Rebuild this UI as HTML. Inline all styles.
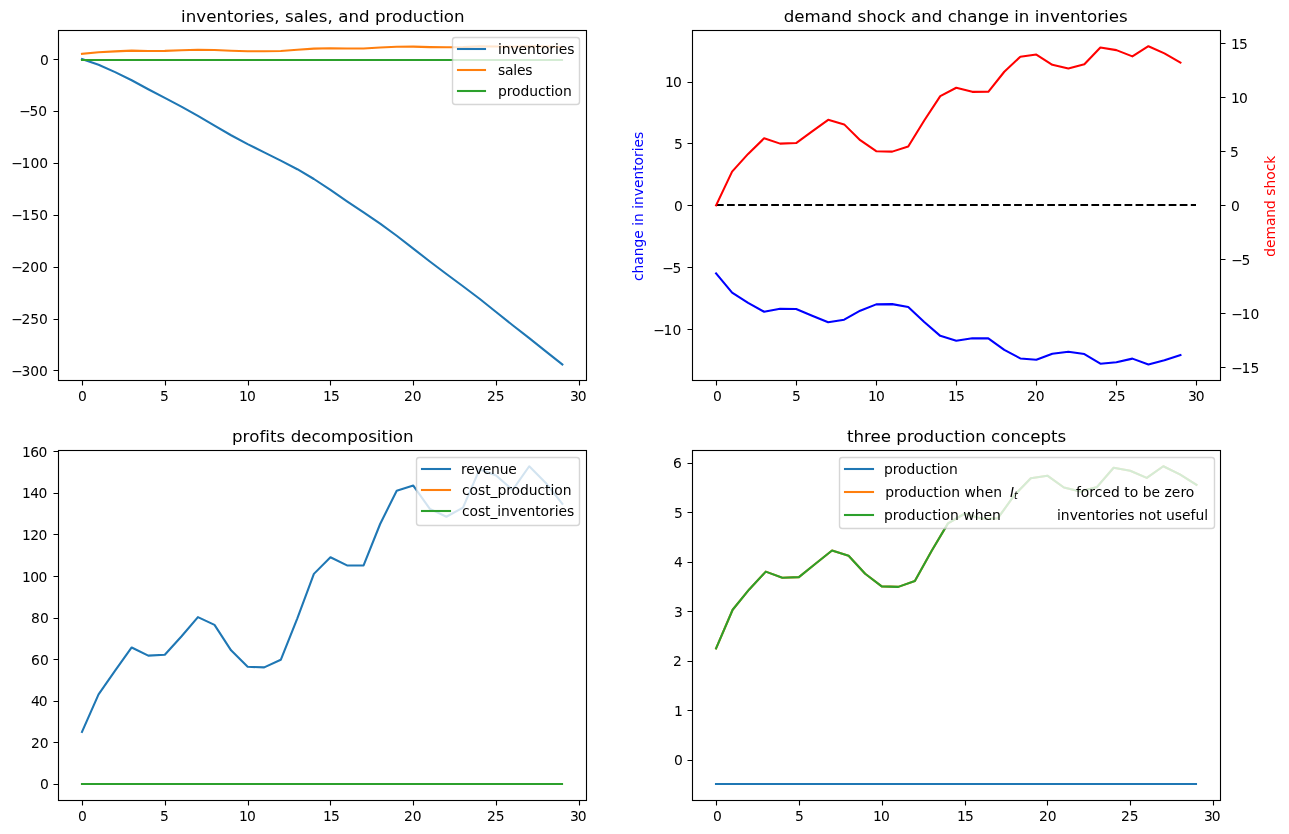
<!DOCTYPE html>
<html><head><meta charset="utf-8"><title>figure</title>
<style>html,body{margin:0;padding:0;background:#fff;overflow:hidden}svg{display:block}text{font-family:"DejaVu Sans","Liberation Sans",sans-serif;white-space:pre;font-variant-ligatures:none;font-feature-settings:"liga" 0,"clig" 0,"dlig" 0;font-kerning:normal}</style>
</head><body>
<svg width="1289" height="834" viewBox="0 0 1289 834">
<defs><clipPath id="ca"><rect x="57.97" y="30.33" width="528.41" height="350"/></clipPath><clipPath id="cb"><rect x="692.06" y="30.33" width="528.41" height="350"/></clipPath><clipPath id="cc"><rect x="57.97" y="450.33" width="528.41" height="350"/></clipPath><clipPath id="cd"><rect x="692.06" y="450.33" width="528.41" height="350"/></clipPath></defs>
<rect width="1289" height="834" fill="#fff"/>
<g clip-path="url(#ca)">
<polyline points="81.99,59.07 98.56,64.78 115.12,72.11 131.68,80.29 148.25,89.21 164.81,97.88 181.38,106.58 197.94,115.84 214.51,125.65 231.07,135.25 247.64,144.09 264.2,152.4 280.77,160.68 297.33,169.22 313.89,179 330.46,189.95 347.02,201.31 363.59,212.47 380.15,223.63 396.72,235.75 413.28,248.59 429.85,261.54 446.41,274 462.98,286.28 479.54,298.76 496.1,312.05 512.67,325.21 529.23,338.07 545.8,351.42 562.36,364.42" stroke="#1f77b4" stroke-width="2.0833" stroke-linejoin="round" stroke-linecap="square" fill="none"/>
<polyline points="81.99,53.88 98.56,52.26 115.12,51.41 131.68,50.66 148.25,50.92 164.81,50.89 181.38,50.33 197.94,49.78 214.51,49.99 231.07,50.75 247.64,51.28 264.2,51.3 280.77,51.05 297.33,49.81 313.89,48.64 330.46,48.24 347.02,48.43 363.59,48.43 380.15,47.47 396.72,46.75 413.28,46.64 429.85,47.14 446.41,47.31 462.98,47.11 479.54,46.3 496.1,46.43 512.67,46.73 529.23,46.24 545.8,46.58 562.36,47.03" stroke="#ff7f0e" stroke-width="2.0833" stroke-linejoin="round" stroke-linecap="square" fill="none"/>
<path d="M82 60H562" stroke="#2ca02c" stroke-width="2.0833" stroke-linecap="square" fill="none"/>
</g>
<g clip-path="url(#cb)">
<polyline points="716.08,273.37 732.09,292.67 748.11,302.82 764.12,311.72 780.13,308.69 796.14,309 812.16,315.68 828.17,322.3 844.18,319.7 860.19,310.67 876.21,304.36 892.22,304.12 908.23,307.08 924.24,321.93 940.26,335.85 956.27,340.67 972.28,338.32 988.29,338.35 1004.3,349.83 1020.32,358.42 1036.33,359.69 1052.34,353.79 1068.35,351.74 1084.37,354.09 1100.38,363.68 1116.39,362.2 1132.4,358.61 1148.42,364.42 1164.43,360.34 1180.44,355.08" stroke="#0000ff" stroke-width="2.0833" stroke-linejoin="round" stroke-linecap="square" fill="none"/>
<path d="M716.0 205.0H1196.0" stroke="#000" stroke-width="2.0833" stroke-dasharray="7.7083 3.3333" fill="none"/>
</g>
<g clip-path="url(#cc)">
<polyline points="81.99,731.92 98.56,694.42 115.12,670.65 131.68,647.48 148.25,655.61 164.81,654.79 181.38,636.49 197.94,617.16 214.51,624.89 231.07,650.33 247.64,666.78 264.2,667.41 280.77,659.82 297.33,618.27 313.89,573.88 330.46,557.27 347.02,565.44 363.59,565.34 380.15,524 396.72,490.68 413.28,485.6 429.85,508.91 446.41,516.74 462.98,507.71 479.54,469.32 496.1,475.43 512.67,489.94 529.23,466.24 545.8,482.98 562.36,503.87" stroke="#1f77b4" stroke-width="2.0833" stroke-linejoin="round" stroke-linecap="square" fill="none"/>
<path d="M82 784H562" stroke="#ff7f0e" stroke-width="2.0833" stroke-linecap="square" fill="none"/>
<path d="M82 784H562" stroke="#2ca02c" stroke-width="2.0833" stroke-linecap="square" fill="none"/>
</g>
<g clip-path="url(#cd)">
<path d="M716 784H1196" stroke="#1f77b4" stroke-width="2.0833" stroke-linecap="square" fill="none"/>
<polyline points="716.08,648.34 732.65,609.75 749.21,589.46 765.78,571.64 782.34,577.7 798.9,577.09 815.47,563.73 832.03,550.49 848.6,555.68 865.16,573.75 881.73,586.36 898.29,586.86 914.86,580.92 931.42,551.23 947.99,523.4 964.55,513.75 981.11,518.45 997.68,518.39 1014.24,495.44 1030.81,478.24 1047.37,475.71 1063.94,487.52 1080.5,491.6 1097.07,486.9 1113.63,467.73 1130.2,470.7 1146.76,477.87 1163.32,466.24 1179.89,474.41 1196.45,484.92" stroke="#ff7f0e" stroke-width="2.0833" stroke-linejoin="round" stroke-linecap="square" fill="none"/>
<polyline points="716.08,648.34 732.65,609.75 749.21,589.46 765.78,571.64 782.34,577.7 798.9,577.09 815.47,563.73 832.03,550.49 848.6,555.68 865.16,573.75 881.73,586.36 898.29,586.86 914.86,580.92 931.42,551.23 947.99,523.4 964.55,513.75 981.11,518.45 997.68,518.39 1014.24,495.44 1030.81,478.24 1047.37,475.71 1063.94,487.52 1080.5,491.6 1097.07,486.9 1113.63,467.73 1130.2,470.7 1146.76,477.87 1163.32,466.24 1179.89,474.41 1196.45,484.92" stroke="#2ca02c" stroke-width="2.0833" stroke-linejoin="round" stroke-linecap="square" fill="none"/>
</g>
<rect x="58.5" y="30.5" width="528.0" height="350.0" fill="none" stroke="#000" stroke-width="1.1111"/>
<rect x="692.5" y="30.5" width="528.0" height="350.0" fill="none" stroke="#000" stroke-width="1.1111"/>
<rect x="58.5" y="450.5" width="528.0" height="350.0" fill="none" stroke="#000" stroke-width="1.1111"/>
<rect x="692.5" y="450.5" width="528.0" height="350.0" fill="none" stroke="#000" stroke-width="1.1111"/>
<path d="M82.5 380.5V385.5M165.5 380.5V385.5M248.5 380.5V385.5M330.5 380.5V385.5M413.5 380.5V385.5M496.5 380.5V385.5M579.5 380.5V385.5" stroke="#000" stroke-width="1.1111" fill="none"/>
<path d="M716.5 380.5V385.5M796.5 380.5V385.5M876.5 380.5V385.5M956.5 380.5V385.5M1036.5 380.5V385.5M1116.5 380.5V385.5M1196.5 380.5V385.5" stroke="#000" stroke-width="1.1111" fill="none"/>
<path d="M82.5 800.5V805.5M165.5 800.5V805.5M248.5 800.5V805.5M330.5 800.5V805.5M413.5 800.5V805.5M496.5 800.5V805.5M579.5 800.5V805.5" stroke="#000" stroke-width="1.1111" fill="none"/>
<path d="M716.5 800.5V805.5M799.5 800.5V805.5M882.5 800.5V805.5M965.5 800.5V805.5M1047.5 800.5V805.5M1130.5 800.5V805.5M1213.5 800.5V805.5" stroke="#000" stroke-width="1.1111" fill="none"/>
<path d="M58.5 370.5H53.5M58.5 319.5H53.5M58.5 267.5H53.5M58.5 215.5H53.5M58.5 163.5H53.5M58.5 111.5H53.5M58.5 59.5H53.5" stroke="#000" stroke-width="1.1111" fill="none"/>
<path d="M692.5 329.5H687.5M692.5 267.5H687.5M692.5 205.5H687.5M692.5 143.5H687.5M692.5 82.5H687.5" stroke="#000" stroke-width="1.1111" fill="none"/>
<path d="M58.5 784.5H53.5M58.5 742.5H53.5M58.5 701.5H53.5M58.5 659.5H53.5M58.5 618.5H53.5M58.5 576.5H53.5M58.5 534.5H53.5M58.5 493.5H53.5M58.5 451.5H53.5" stroke="#000" stroke-width="1.1111" fill="none"/>
<path d="M692.5 760.5H687.5M692.5 710.5H687.5M692.5 661.5H687.5M692.5 611.5H687.5M692.5 562.5H687.5M692.5 512.5H687.5M692.5 463.5H687.5" stroke="#000" stroke-width="1.1111" fill="none"/>
<g clip-path="url(#cb)">
<polyline points="716.08,205.33 732.09,171.61 748.11,153.89 764.12,138.32 780.13,143.62 796.14,143.08 812.16,131.41 828.17,119.84 844.18,124.38 860.19,140.16 876.21,151.19 892.22,151.62 908.23,146.43 924.24,120.49 940.26,96.17 956.27,87.74 972.28,91.85 988.29,91.8 1004.3,71.75 1020.32,56.73 1036.33,54.51 1052.34,64.83 1068.35,68.4 1084.37,64.29 1100.38,47.54 1116.39,50.13 1132.4,56.4 1148.42,46.24 1164.43,53.38 1180.44,62.56" stroke="#ff0000" stroke-width="2.0833" stroke-linejoin="round" stroke-linecap="square" fill="none"/>
</g>
<path d="M1220.5 367.5H1225.5M1220.5 313.5H1225.5M1220.5 259.5H1225.5M1220.5 205.5H1225.5M1220.5 151.5H1225.5M1220.5 97.5H1225.5M1220.5 43.5H1225.5" stroke="#000" stroke-width="1.1111" fill="none"/>
<rect x="452.5" y="37.5" width="127" height="67" rx="2.7778" ry="2.7778" fill="#fff" stroke="#ccc" stroke-width="1.3889" opacity="0.8"/>
<path d="M458 49.0H485" stroke="#1f77b4" stroke-width="2.0833" stroke-linecap="square" fill="none"/>
<path d="M458 70.0H485" stroke="#ff7f0e" stroke-width="2.0833" stroke-linecap="square" fill="none"/>
<path d="M458 91.0H485" stroke="#2ca02c" stroke-width="2.0833" stroke-linecap="square" fill="none"/>
<rect x="416.5" y="457.5" width="163" height="68" rx="2.7778" ry="2.7778" fill="#fff" stroke="#ccc" stroke-width="1.3889" opacity="0.8"/>
<path d="M422 469.0H450" stroke="#1f77b4" stroke-width="2.0833" stroke-linecap="square" fill="none"/>
<path d="M422 490.0H450" stroke="#ff7f0e" stroke-width="2.0833" stroke-linecap="square" fill="none"/>
<path d="M422 511.0H450" stroke="#2ca02c" stroke-width="2.0833" stroke-linecap="square" fill="none"/>
<rect x="839.5" y="457.5" width="375" height="71" rx="2.7778" ry="2.7778" fill="#fff" stroke="#ccc" stroke-width="1.3889" opacity="0.8"/>
<path d="M845 469.0H873" stroke="#1f77b4" stroke-width="2.0833" stroke-linecap="square" fill="none"/>
<path d="M845 492.0H873" stroke="#ff7f0e" stroke-width="2.0833" stroke-linecap="square" fill="none"/>
<path d="M845 515.0H873" stroke="#2ca02c" stroke-width="2.0833" stroke-linecap="square" fill="none"/>
<text x="77.92" y="401" font-size="13.89">0</text>
<text x="159.94" y="401" font-size="13.89">5</text>
<text x="239.04" y="401" font-size="13.89" letter-spacing="-0.969">10</text>
<text x="323.04" y="401" font-size="13.89" letter-spacing="-0.949">15</text>
<text x="403.98" y="401" font-size="13.89" letter-spacing="-0.031">20</text>
<text x="486.98" y="401" font-size="13.89" letter-spacing="-0.012">25</text>
<text x="569.99" y="401" font-size="13.89" letter-spacing="-1.043">30</text>
<text x="10.03" y="376" font-size="13.89" letter-spacing="-0.073"><tspan dx="1.1">−</tspan><tspan dx="-1.1">300</tspan></text>
<text x="10.03" y="324" font-size="13.89" letter-spacing="-0.073"><tspan dx="1.1">−</tspan><tspan dx="-1.1">250</tspan></text>
<text x="10.03" y="272" font-size="13.89" letter-spacing="-0.073"><tspan dx="1.1">−</tspan><tspan dx="-1.1">200</tspan></text>
<text x="10.03" y="220" font-size="13.89" letter-spacing="-0.033"><tspan dx="1.1">−</tspan><tspan dx="-1.1">150</tspan></text>
<text x="10.03" y="168" font-size="13.89" letter-spacing="-0.033"><tspan dx="1.1">−</tspan><tspan dx="-1.1">100</tspan></text>
<text x="18.03" y="116" font-size="13.89" letter-spacing="-0.110"><tspan dx="1.1">−</tspan><tspan dx="-1.1">50</tspan></text>
<text x="39.92" y="65" font-size="13.89">0</text>
<text x="181" y="22" font-size="16.67" letter-spacing="0.03">inventories, sales, and production</text>
<text x="497.93" y="54" font-size="13.89" letter-spacing="-0.096">inventories</text>
<text x="497.96" y="75" font-size="13.89" letter-spacing="-0.220">sales</text>
<text x="497.96" y="96" font-size="13.89" letter-spacing="-0.072">production</text>
<text x="712.92" y="401" font-size="13.89">0</text>
<text x="791.94" y="401" font-size="13.89">5</text>
<text x="868.04" y="401" font-size="13.89" letter-spacing="-0.969">10</text>
<text x="948.04" y="401" font-size="13.89" letter-spacing="-0.949">15</text>
<text x="1026.98" y="401" font-size="13.89" letter-spacing="-0.031">20</text>
<text x="1107.98" y="401" font-size="13.89" letter-spacing="-0.012">25</text>
<text x="1187.99" y="401" font-size="13.89" letter-spacing="-1.043">30</text>
<text transform="translate(643.39 280.97) rotate(-90)" font-size="13.89" fill="#0000ff" letter-spacing="-0.04">change in inventories</text>
<text x="652.03" y="335" font-size="13.89" letter-spacing="-0.047"><tspan dx="1.1">−</tspan><tspan dx="-1.1">10</tspan></text>
<text x="661.03" y="273" font-size="13.89" letter-spacing="-0.188"><tspan dx="1.1">−</tspan><tspan dx="-1.1">5</tspan></text>
<text x="673.92" y="211" font-size="13.89">0</text>
<text x="673.94" y="149" font-size="13.89">5</text>
<text x="665.04" y="87" font-size="13.89" letter-spacing="-0.969">10</text>
<text x="783.8" y="22" font-size="16.67">demand shock and change in inventories</text>
<text x="77.92" y="821" font-size="13.89">0</text>
<text x="159.94" y="821" font-size="13.89">5</text>
<text x="239.04" y="821" font-size="13.89" letter-spacing="-0.969">10</text>
<text x="323.04" y="821" font-size="13.89" letter-spacing="-0.949">15</text>
<text x="403.98" y="821" font-size="13.89" letter-spacing="-0.031">20</text>
<text x="486.98" y="821" font-size="13.89" letter-spacing="-0.012">25</text>
<text x="569.99" y="821" font-size="13.89" letter-spacing="-1.043">30</text>
<text x="39.92" y="789" font-size="13.89">0</text>
<text x="30.98" y="748" font-size="13.89" letter-spacing="-0.031">20</text>
<text x="31.01" y="706" font-size="13.89" letter-spacing="-1.063">40</text>
<text x="30.99" y="665" font-size="13.89" letter-spacing="0.082">60</text>
<text x="31.04" y="623" font-size="13.89" letter-spacing="0.035">80</text>
<text x="22.04" y="582" font-size="13.89" letter-spacing="-0.612">100</text>
<text x="22.04" y="540" font-size="13.89" letter-spacing="-0.612">120</text>
<text x="22.04" y="498" font-size="13.89" letter-spacing="-0.612">140</text>
<text x="22.04" y="457" font-size="13.89" letter-spacing="-0.547">160</text>
<text x="232" y="442" font-size="16.67" letter-spacing="0.05">profits decomposition</text>
<text x="460.96" y="474" font-size="13.89" letter-spacing="-0.158">revenue</text>
<text x="461.95" y="495" font-size="13.89" letter-spacing="-0.049">cost_production</text>
<text x="461.95" y="516" font-size="13.89" letter-spacing="-0.066">cost_inventories</text>
<text x="712.92" y="821" font-size="13.89">0</text>
<text x="794.94" y="821" font-size="13.89">5</text>
<text x="873.04" y="821" font-size="13.89" letter-spacing="-0.969">10</text>
<text x="957.04" y="821" font-size="13.89" letter-spacing="-0.949">15</text>
<text x="1038.98" y="821" font-size="13.89" letter-spacing="-0.031">20</text>
<text x="1120.98" y="821" font-size="13.89" letter-spacing="-0.012">25</text>
<text x="1203.99" y="821" font-size="13.89" letter-spacing="-1.043">30</text>
<text x="673.92" y="765" font-size="13.89">0</text>
<text x="674.04" y="716" font-size="13.89">1</text>
<text x="672.98" y="666" font-size="13.89">2</text>
<text x="673.99" y="617" font-size="13.89">3</text>
<text x="674.01" y="567" font-size="13.89">4</text>
<text x="673.94" y="518" font-size="13.89">5</text>
<text x="672.99" y="468" font-size="13.89">6</text>
<text x="847" y="442" font-size="16.67">three production concepts</text>
<text x="883.96" y="474" font-size="13.89" letter-spacing="-0.072">production</text>
<text transform="translate(1274.85 256.85) rotate(-90)" font-size="13.89" fill="#ff0000" letter-spacing="-0.04">demand shock</text>
<text x="1230.03" y="373" font-size="13.89" letter-spacing="-0.033"><tspan dx="1.1">−</tspan><tspan dx="-1.1">15</tspan></text>
<text x="1230.03" y="319" font-size="13.89" letter-spacing="-0.047"><tspan dx="1.1">−</tspan><tspan dx="-1.1">10</tspan></text>
<text x="1230.03" y="265" font-size="13.89" letter-spacing="-0.188"><tspan dx="1.1">−</tspan><tspan dx="-1.1">5</tspan></text>
<text x="1230.92" y="211" font-size="13.89">0</text>
<text x="1229.94" y="157" font-size="13.89">5</text>
<text x="1231.04" y="103" font-size="13.89" letter-spacing="-0.969">10</text>
<text x="1231.04" y="49" font-size="13.89" letter-spacing="-0.949">15</text>
<text x="885.2" y="496.78" font-size="13.89" letter-spacing="0.03">production when</text>
<text x="1010.0" y="496.78" font-size="13.89" font-style="italic">I</text>
<text x="1014.0" y="498.98" font-size="9.72" font-style="italic">t</text>
<text x="1194.4" y="496.78" font-size="13.89" text-anchor="end" letter-spacing="0.03">forced to be zero</text>
<text x="883.97" y="519.72" font-size="13.89" letter-spacing="0.04">production when</text>
<text x="1208.1" y="519.72" font-size="13.89" text-anchor="end">inventories not useful</text>
</svg>
</body></html>
